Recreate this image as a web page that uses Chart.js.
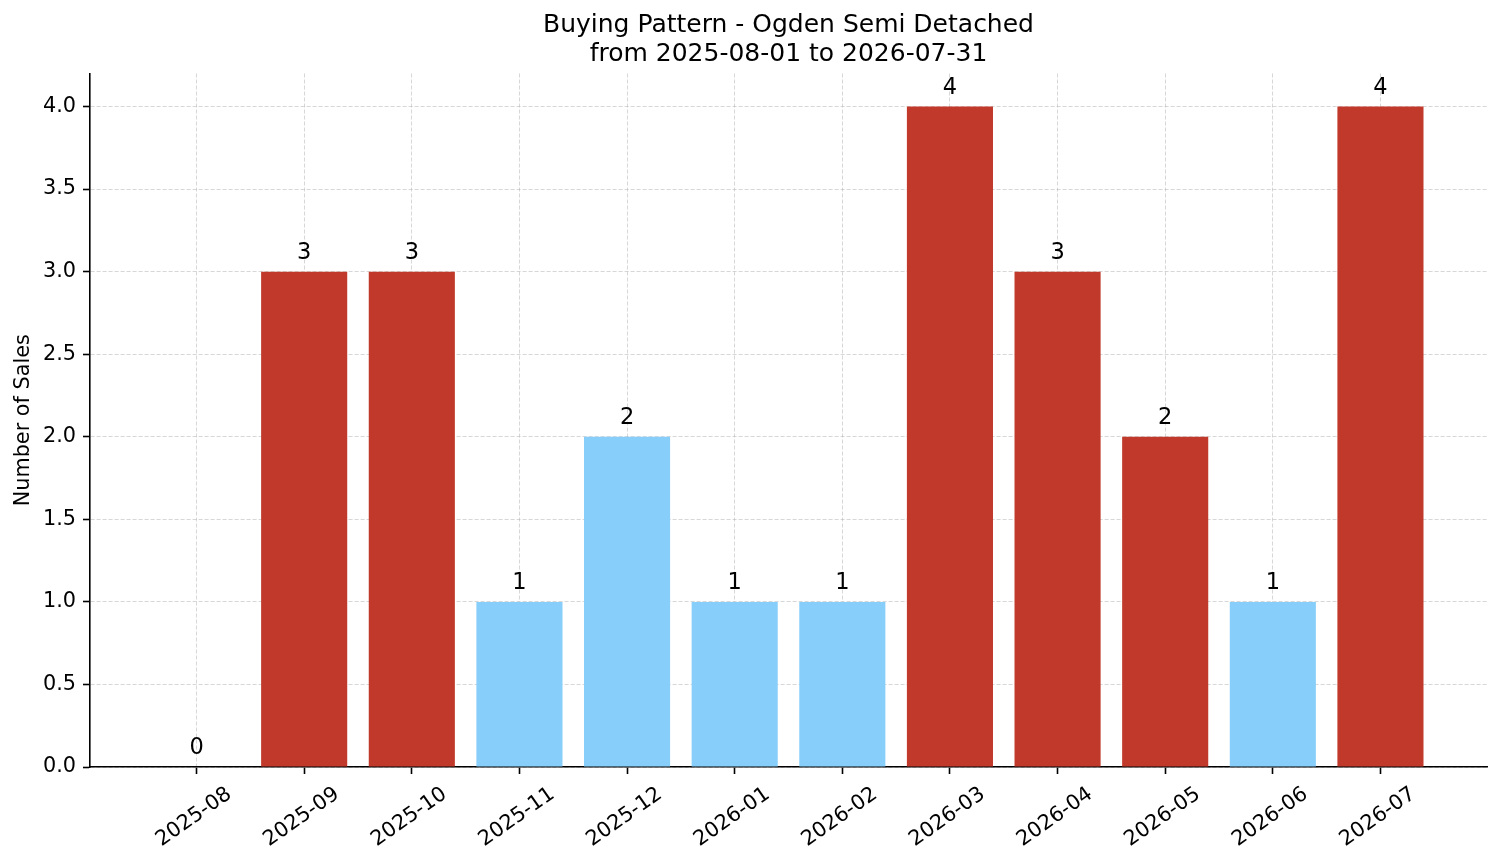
<!DOCTYPE html>
<html>
<head>
<meta charset="utf-8">
<script src="https://cdn.jsdelivr.net/npm/chart.js@4.4.1/dist/chart.umd.min.js"></script>
<style>
  html, body { margin: 0; padding: 0; background: #ffffff; }
  #wrap { width: 1501px; height: 863px; }
</style>
</head>
<body>
<div id="wrap"><canvas id="c" width="1501" height="863"></canvas></div>
<script>
const months = ['2025-08', '2025-09', '2025-10', '2025-11', '2025-12', '2026-01',
                '2026-02', '2026-03', '2026-04', '2026-05', '2026-06', '2026-07'];
const sales = [0, 3, 3, 1, 2, 1, 1, 4, 3, 2, 1, 4];
const highlighted = [false, true, true, false, false, false, false, true, true, true, false, true];
const yTicks = [0, 0.5, 1.0, 1.5, 2.0, 2.5, 3.0, 3.5, 4.0];
const titleLines = ['Buying Pattern - Ogden Semi Detached', 'from 2025-08-01 to 2026-07-31'];
const yLabel = 'Number of Sales';

const RED = '#c0392b';
const BLUE = '#87cefa';
const GRID = 'rgba(176,176,176,0.5)';
const FONT = 'DejaVu Sans';

const valueLabels = {
  id: 'valueLabels',
  afterDraw(chart) {
    const ctx = chart.ctx;
    const meta = chart.getDatasetMeta(0);
    ctx.save();
    ctx.font = '22.5px "DejaVu Sans"';
    ctx.fillStyle = '#000';
    ctx.textAlign = 'center';
    ctx.textBaseline = 'alphabetic';
    meta.data.forEach((el, i) => {
      ctx.fillText(String(sales[i]), el.x, el.y - 13);
    });
    ctx.restore();
  }
};

const gridOpts = {
  color: GRID, lineWidth: 1, offset: false,
  tickLength: 7, tickColor: '#000', tickWidth: 1.6, tickBorderDash: []
};
const borderOpts = { display: true, color: '#000', width: 1.6, dash: [4, 2] };

new Chart(document.getElementById('c').getContext('2d'), {
  type: 'bar',
  data: {
    datasets: [{
      data: sales.map((v, i) => ({ x: i, y: v })),
      backgroundColor: highlighted.map(h => h ? RED : BLUE),
      borderWidth: 0,
      barPercentage: 0.8,
      categoryPercentage: 1.0
    }]
  },
  options: {
    responsive: false,
    animation: false,
    devicePixelRatio: 1,
    layout: { padding: { left: 0, right: 14, top: 0, bottom: 0 } },
    plugins: {
      legend: { display: false },
      tooltip: { enabled: false },
      title: {
        display: true, text: titleLines, fullSize: false, color: '#000',
        font: { family: FONT, size: 25, weight: 'normal', lineHeight: 1.15 },
        padding: { top: 11, bottom: 5 }
      }
    },
    scales: {
      x: {
        type: 'linear', min: -0.99, max: 11.99, bounds: 'data', offset: false, z: 1,
        afterBuildTicks(s) { s.ticks = months.map((m, i) => ({ value: i })); },
        afterFit(s) { s.height = 96; },
        grid: gridOpts,
        border: borderOpts,
        ticks: {
          autoSkip: false, minRotation: 35, maxRotation: 35, labelOffset: 33, padding: 8,
          color: '#000', font: { family: FONT, size: 20.8 },
          callback: (v) => months[v]
        }
      },
      y: {
        min: 0, max: 4.2, z: 1,
        afterBuildTicks(s) { s.ticks = yTicks.map(v => ({ value: v })); },
        afterFit(s) { s.width = 90; },
        grid: gridOpts,
        border: borderOpts,
        ticks: {
          padding: 7, color: '#000', font: { family: FONT, size: 20.8 },
          callback: (v) => Number(v).toFixed(1)
        },
        title: {
          display: true, text: yLabel, color: '#000',
          font: { family: FONT, size: 20.8 }, padding: { top: 11, bottom: 0 }
        }
      }
    }
  },
  plugins: [valueLabels]
});
</script>
</body>
</html>
